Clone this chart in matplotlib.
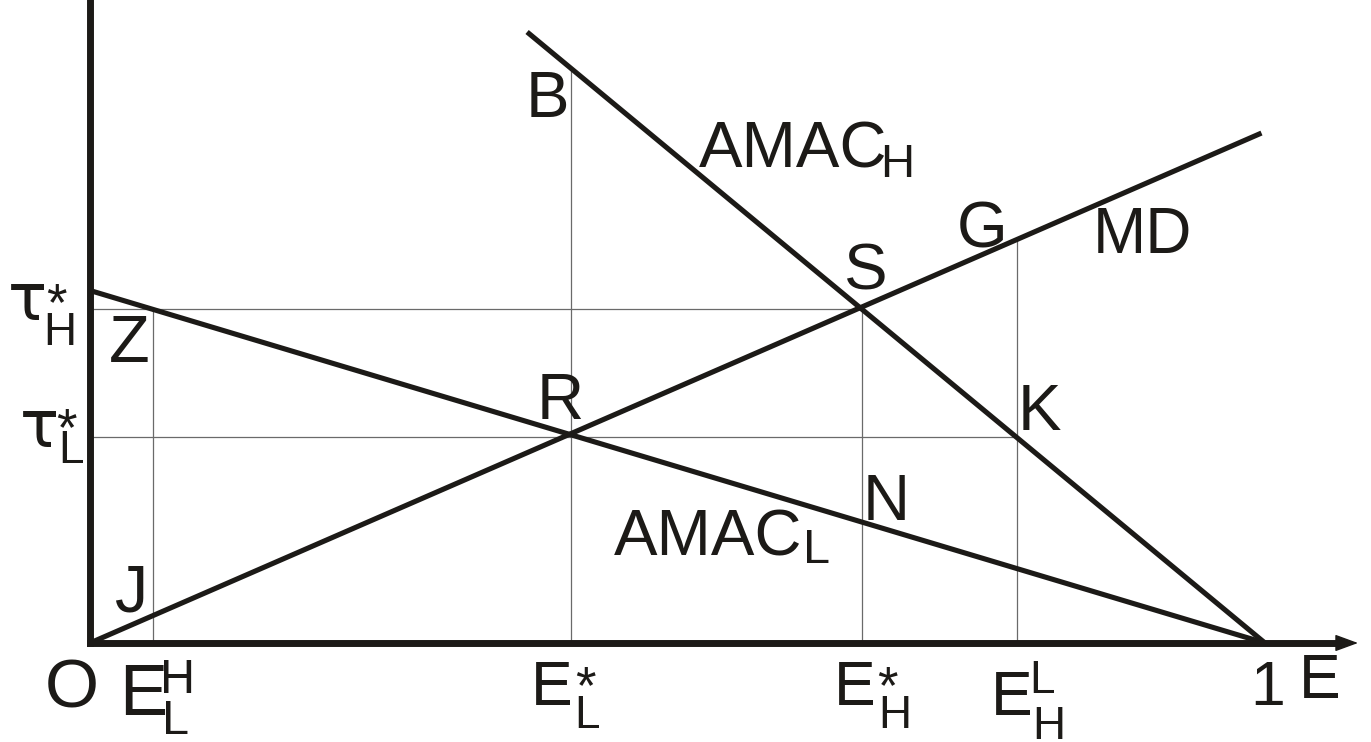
import numpy as np
import matplotlib
matplotlib.use("Agg")
import matplotlib.pyplot as plt

# --- data (E on x, tau on y) ---
md_E = [0.0, 0.997]
md_tau = [0.0, 0.434]
amac_h_E = [0.372, 1.0]
amac_h_tau = [0.520, 0.0]
amac_l_E = [0.0, 1.0]
amac_l_tau = [0.300, 0.0]

E_LH = 0.054      # E_L^H
E_L_star = 0.409  # E_L*
E_H_star = 0.657  # E_H*
E_HL = 0.789      # E_H^L
tau_H_star = 0.284
tau_L_star = 0.175

ink = "#1c1a17"
grey = "#6a6a6a"
font = "Liberation Sans"

# figure pixel layout: origin at (90, 643), unit length 1175 px
W, H = 1371, 742
OX, OY, U = 90, 643, 1175


def px(x, y):
    # pixel position -> data coords (only used to place labels)
    return (x - OX) / U, (OY - y) / U


fig = plt.figure(figsize=(W / 100, H / 100), dpi=100)
ax = fig.add_axes([0, 0, 1, 1])
ax.set_xlim(-OX / U, (W - OX) / U)
ax.set_ylim((OY - H) / U, OY / U)
ax.axis("off")

# guide lines
md_at = lambda e: np.interp(e, md_E, md_tau)
ah_at = lambda e: np.interp(e, amac_h_E, amac_h_tau)
al_at = lambda e: np.interp(e, amac_l_E, amac_l_tau)

vtops = [(E_LH, al_at(E_LH)), (E_L_star, ah_at(E_L_star)),
         (E_H_star, tau_H_star), (E_HL, md_at(E_HL))]
for e, top in vtops:
    ax.plot([e, e], [0, top], color=grey, lw=0.9, zorder=1)
ax.plot([0, E_H_star], [tau_H_star, tau_H_star], color=grey, lw=0.9, zorder=1)
ax.plot([0, E_HL], [tau_L_star, tau_L_star], color=grey, lw=0.9, zorder=1)

# curves
for xs, ys in [(md_E, md_tau), (amac_h_E, amac_h_tau), (amac_l_E, amac_l_tau)]:
    ax.plot(xs, ys, color=ink, lw=3.7, solid_capstyle="butt", zorder=2)

# axes
ax.plot([0, 0], [0, OY / U], color=ink, lw=5, solid_capstyle="projecting", zorder=3)
x_tip = (1358 - OX) / U
x_head = (1338 - OX) / U
ax.plot([0, x_head], [0, 0], color=ink, lw=5, solid_capstyle="projecting", zorder=3)
ax.annotate("", xy=(x_tip, 0), xytext=(x_head - 0.005, 0),
            arrowprops=dict(arrowstyle="-|>,head_length=0.6,head_width=0.22",
                            mutation_scale=24, lw=1, color=ink,
                            shrinkA=0, shrinkB=0), zorder=3)


def lab(s, x, y, size, fam=font):
    xx, yy = px(x, y)
    ax.text(xx, yy, s, fontsize=size, family=fam, color=ink,
            ha="left", va="baseline", zorder=4)


def star(x, top, size=40):
    lab("*", x, top + 0.716 * size * 100 / 72, size)


# point labels
lab("B", 526, 117, 47)
lab("AMAC", 699, 167, 47)
lab("H", 880, 177, 34)
lab("S", 844, 290, 47)
lab("G", 957, 247, 47)
lab("MD", 1093, 253, 46)
lab("R", 537, 419, 47)
lab("K", 1018, 430, 47)
lab("N", 863, 520, 47)
lab("AMAC", 614, 555, 47)
lab("L", 803, 563, 35)
lab("Z", 109, 362, 48)
lab("J", 114, 612, 48)

# x-axis labels
lab("O", 45, 707, 50)
lab("E", 119, 715, 52)
lab("H", 160, 693, 35)
lab("L", 162, 734, 35)

lab("E", 531, 705, 45)
star(575, 665, 38)
lab("L", 574, 728, 33)

lab("E", 834, 705, 45)
star(877, 665, 38)
lab("H", 878, 728, 33)

lab("E", 991, 715, 45)
lab("L", 1029, 693, 33)
lab("H", 1032, 739, 33)

lab("1", 1250, 705, 45)
lab("E", 1299, 698, 45)

# y-axis labels
lab("τ", 8, 320, 47, "DejaVu Sans")
star(46, 282, 38)
lab("H", 43, 345, 33)

lab("τ", 20, 447, 47, "DejaVu Sans")
star(56, 407, 38)
lab("L", 58, 463, 33)

fig.savefig("out.png", dpi=100)
